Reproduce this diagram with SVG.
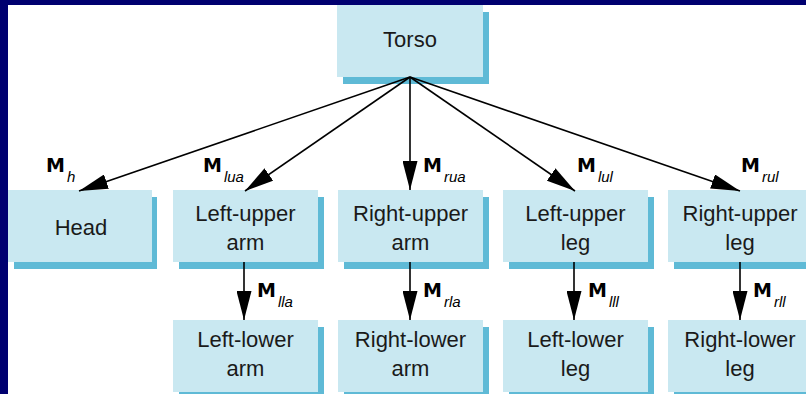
<svg xmlns="http://www.w3.org/2000/svg" width="806" height="394" viewBox="0 0 806 394">
<defs>
<style>
.sh{fill:#5fbad6}
.bx{fill:#c9e8f1}
.t{font-family:"Liberation Sans",Arial,sans-serif;font-size:22px;fill:#1a1a1a;text-anchor:middle}
.m{font-family:"DejaVu Sans",sans-serif;font-weight:bold;font-size:19px;fill:#000}
.s{font-family:"Liberation Sans",Arial,sans-serif;font-style:italic;font-weight:normal;font-size:15px}
.ln{stroke:#000;stroke-width:1.6;fill:none;marker-end:url(#ah)}
</style>
<marker id="ah" viewBox="0 0 29 15" refX="29" refY="7.5" markerWidth="29" markerHeight="15" markerUnits="userSpaceOnUse" orient="auto">
<path d="M0,0 L29,7.5 L0,15 Z" fill="#000"/>
</marker>
</defs>
<rect width="806" height="394" fill="#fff"/>
<rect x="0" y="0" width="806" height="5" fill="#000070"/>
<rect x="0" y="0" width="8" height="394" fill="#000070"/>

<g id="torso"><rect class="sh" x="343" y="12" width="146" height="72"/><rect class="bx" x="337" y="5" width="146" height="72"/><text class="t" x="410" y="47">Torso</text></g>

<g id="head"><rect class="sh" x="14" y="197" width="143" height="72"/><rect class="bx" x="8" y="190" width="144" height="72"/><text class="t" x="81" y="235">Head</text></g>
<g id="left-upper-arm"><rect class="sh" x="179" y="197" width="145" height="72"/><rect class="bx" x="173" y="190" width="145" height="72"/><text class="t" x="245.5" y="221">Left-upper</text><text class="t" x="245.5" y="250">arm</text></g>
<g id="right-upper-arm"><rect class="sh" x="344" y="197" width="145" height="72"/><rect class="bx" x="338" y="190" width="145" height="72"/><text class="t" x="410.5" y="221">Right-upper</text><text class="t" x="410.5" y="250">arm</text></g>
<g id="left-upper-leg"><rect class="sh" x="509" y="197" width="145" height="72"/><rect class="bx" x="503" y="190" width="145" height="72"/><text class="t" x="575.5" y="221">Left-upper</text><text class="t" x="575.5" y="250">leg</text></g>
<g id="right-upper-leg"><rect class="sh" x="674" y="197" width="145" height="72"/><rect class="bx" x="668" y="190" width="145" height="72"/><text class="t" x="740" y="221">Right-upper</text><text class="t" x="740" y="250">leg</text></g>

<g id="left-lower-arm"><rect class="sh" x="179" y="327" width="145" height="72"/><rect class="bx" x="173" y="320" width="145" height="72"/><text class="t" x="245.5" y="347">Left-lower</text><text class="t" x="245.5" y="376">arm</text></g>
<g id="right-lower-arm"><rect class="sh" x="344" y="327" width="145" height="72"/><rect class="bx" x="338" y="320" width="145" height="72"/><text class="t" x="410.5" y="347">Right-lower</text><text class="t" x="410.5" y="376">arm</text></g>
<g id="left-lower-leg"><rect class="sh" x="509" y="327" width="145" height="72"/><rect class="bx" x="503" y="320" width="145" height="72"/><text class="t" x="575.5" y="347">Left-lower</text><text class="t" x="575.5" y="376">leg</text></g>
<g id="right-lower-leg"><rect class="sh" x="674" y="327" width="145" height="72"/><rect class="bx" x="668" y="320" width="145" height="72"/><text class="t" x="740" y="347">Right-lower</text><text class="t" x="740" y="376">leg</text></g>

<g id="connectors">
<line class="ln" x1="410" y1="77" x2="79" y2="191"/>
<line class="ln" x1="410" y1="77" x2="245" y2="191"/>
<line class="ln" x1="410" y1="77" x2="410" y2="190"/>
<line class="ln" x1="410" y1="77" x2="575" y2="191"/>
<line class="ln" x1="410" y1="77" x2="740" y2="191"/>
<line class="ln" x1="244" y1="262" x2="244" y2="320"/>
<line class="ln" x1="410" y1="262" x2="410" y2="320"/>
<line class="ln" x1="574" y1="262" x2="574" y2="320"/>
<line class="ln" x1="740" y1="262" x2="740" y2="320"/>
</g>

<g id="labels">
<text class="m" x="46" y="172">M<tspan class="s" dx="2" dy="10">h</tspan></text>
<text class="m" x="203" y="172">M<tspan class="s" dx="2" dy="10">lua</tspan></text>
<text class="m" x="423" y="172">M<tspan class="s" dx="2" dy="10">rua</tspan></text>
<text class="m" x="577" y="172">M<tspan class="s" dx="2" dy="10">lul</tspan></text>
<text class="m" x="741" y="172">M<tspan class="s" dx="2" dy="10">rul</tspan></text>
<text class="m" x="257" y="297">M<tspan class="s" dx="2" dy="10">lla</tspan></text>
<text class="m" x="423" y="297">M<tspan class="s" dx="2" dy="10">rla</tspan></text>
<text class="m" x="588" y="297">M<tspan class="s" dx="2" dy="10">lll</tspan></text>
<text class="m" x="753" y="297">M<tspan class="s" dx="2" dy="10">rll</tspan></text>
</g>
</svg>
